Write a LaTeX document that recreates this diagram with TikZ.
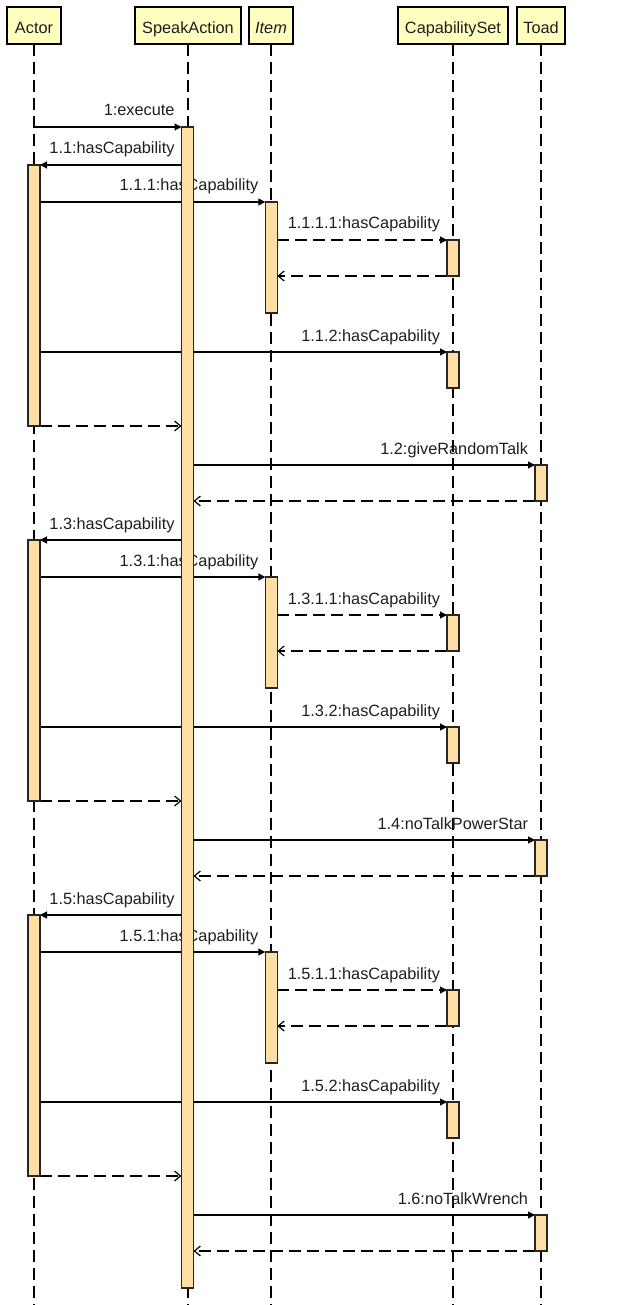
\documentclass[tikz,border=0pt]{standalone}
\usepackage{fontspec}
\setmainfont{Liberation Sans}
\usetikzlibrary{arrows.meta}
\pgfdeclarelayer{bg}
\pgfdeclarelayer{fg}
\pgfsetlayers{bg,main,fg}
\definecolor{headfill}{RGB}{255,255,192}
\definecolor{barfill}{RGB}{255,222,163}
\definecolor{ink}{RGB}{30,30,30}

\begin{document}
\begin{tikzpicture}[x=1pt,y=-1pt,
  font=\fontsize{16.3}{19}\selectfont,
  head/.style={draw=black, line width=1.4pt, fill=headfill, minimum height=37pt,
    inner sep=0pt, outer sep=0pt, anchor=north, text=ink, text height=16.2pt, text depth=0pt},
  bar/.style={draw=black!85, line width=1.2pt, fill=barfill, minimum width=12pt,
    inner sep=0pt, outer sep=0pt, anchor=north},
  lifeline/.style={draw=black, line width=1.3pt, dash pattern=on 12pt off 6pt},
  call/.style={draw=black, line width=1.2pt, -{Triangle[length=7pt,width=7pt]}},
  dashcall/.style={call, dash pattern=on 12pt off 6pt},
  reply/.style={draw=black, line width=1.2pt, dash pattern=on 12pt off 6pt,
    -{Straight Barb[length=6pt,width=10pt]}},
  lbl/.style={anchor=base east, inner sep=0pt, outer sep=0pt, text=ink, xshift=-7pt, yshift=11pt},
]
\useasboundingbox (0,0) rectangle (625,1305);
\coordinate (bottom) at (0,1305);

% participants
\node[head, minimum width=54pt]  (actor) at (34,7)  {Actor};
\node[head, minimum width=106pt] (speak) at (188,7) {SpeakAction};
\node[head, minimum width=44pt]  (item)  at (271,7) {\textit{Item}};
\node[head, minimum width=110pt] (caps)  at (453,7) {CapabilitySet};
\node[head, minimum width=48pt]  (toad)  at (541,7) {Toad};

% lifelines
\begin{pgfonlayer}{bg}
  \foreach \p in {actor,speak,item,caps,toad}
    \draw[lifeline] (\p.south) -- (\p.south |- bottom);
\end{pgfonlayer}

% activation of SpeakAction
\begin{pgfonlayer}{fg}
  \node[bar, minimum height=1161pt] (sa) at (187.5,127) {};
\end{pgfonlayer}

\draw[call] (actor.south |- sa.north) -- (sa.north west)
  node[lbl, pos=1] (lblexec) {1:execute};

% three rounds of capability checks
\foreach \k/\o/\tm in {1/0/giveRandomTalk,3/375/noTalkPowerStar,5/750/noTalkWrench}{
  \pgfmathtruncatemacro\n{\k+1}
  \begin{pgfonlayer}{fg}
    \node[bar, minimum height=261pt] (ac\k)  at (34,165+\o)    {};
    \node[bar, minimum height=111pt] (it\k)  at (271.3,202+\o) {};
    \node[bar, minimum height=36pt]  (csa\k) at (453,240+\o)   {};
    \node[bar, minimum height=36pt]  (csb\k) at (453,352+\o)   {};
    \node[bar, minimum height=36pt]  (td\k)  at (541,465+\o)   {};
  \end{pgfonlayer}

  \draw[call] (sa.west |- ac\k.north) -- (ac\k.north east)
    node[lbl, pos=0] (lbl\k-a) {1.\k:hasCapability};
  \draw[call] (ac\k.east |- it\k.north) -- (it\k.north west)
    node[lbl, pos=1] (lbl\k-b) {1.\k.1:hasCapability};
  \draw[dashcall] (it\k.east |- csa\k.north) -- (csa\k.north west)
    node[lbl, pos=1] (lbl\k-c) {1.\k.1.1:hasCapability};
  \draw[reply] (csa\k.south west) -- (it\k.east |- csa\k.south);
  \draw[call] (ac\k.east |- csb\k.north) -- (csb\k.north west)
    node[lbl, pos=1] (lbl\k-d) {1.\k.2:hasCapability};
  \draw[reply] (ac\k.south east) -- (sa.west |- ac\k.south);
  \draw[call] (sa.east |- td\k.north) -- (td\k.north west)
    node[lbl, pos=1] (lbl\k-e) {1.\n:\tm};
  \draw[reply] (td\k.south west) -- (sa.east |- td\k.south);
}
\end{tikzpicture}
\end{document}
